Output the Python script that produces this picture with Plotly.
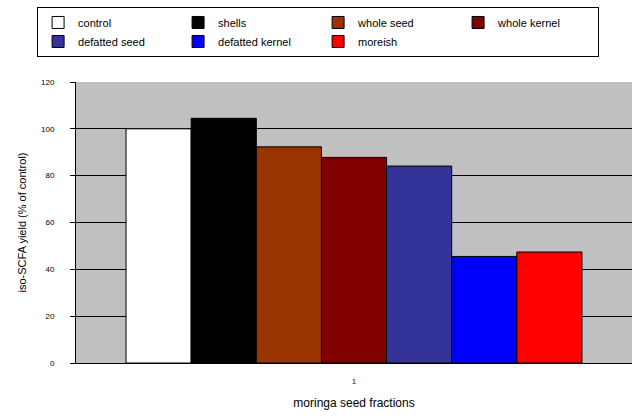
import plotly.graph_objects as go

# Seed fractions and their iso-SCFA yield relative to control (%)
fractions = ["control", "shells", "whole seed", "whole kernel",
             "defatted seed", "defatted kernel", "moreish"]
yield_pct = [100, 104.5, 92.3, 87.8, 84.1, 45.5, 47.4]
colors = ["#FFFFFF", "#000000", "#993300", "#800000",
          "#333399", "#0000FF", "#FF0000"]
category = ["1"]
y_ticks = [0, 20, 40, 60, 80, 100, 120]

fig = go.Figure()
for name, val, col in zip(fractions, yield_pct, colors):
    fig.add_trace(go.Bar(
        x=category, y=[val], name=name,
        marker=dict(color=col, line=dict(color="#000000", width=1)),
    ))

font_family = "Liberation Sans, Arial, sans-serif"

fig.update_layout(
    width=638, height=419,
    margin=dict(l=76, r=6, t=82, b=56),
    paper_bgcolor="#FFFFFF",
    plot_bgcolor="#C0C0C0",
    barmode="group",
    bargap=0.18,
    bargroupgap=0,
    font=dict(family=font_family, color="#000000"),
    showlegend=True,
    legend=dict(
        orientation="h",
        x=-0.07, xanchor="left",
        y=1.267, yanchor="top",
        bgcolor="#FFFFFF",
        bordercolor="#000000", borderwidth=1,
        entrywidth=95, entrywidthmode="pixels",
        font=dict(size=11, family=font_family),
        itemwidth=30,
        tracegroupgap=0,
        traceorder="normal",
    ),
    xaxis=dict(
        showline=True, linecolor="#000000", linewidth=1,
        ticks="outside", ticklen=0,
        tickfont=dict(size=7),
        ticklabelstandoff=12,
        showgrid=False,
        title=dict(text="moringa seed fractions", font=dict(size=12), standoff=14),
    ),
    yaxis=dict(
        range=[0, 120],
        tickvals=y_ticks,
        ticktext=[str(v) for v in y_ticks],
        tickfont=dict(size=8),
        ticks="outside", ticklen=5, tickcolor="#000000",
        ticklabelstandoff=14,
        showline=True, linecolor="#000000", linewidth=1,
        showgrid=True, gridcolor="#000000", gridwidth=1,
        zeroline=False,
        title=dict(text="iso-SCFA yield (% of control)", font=dict(size=11), standoff=12),
    ),
)

fig.write_html("out.html")
